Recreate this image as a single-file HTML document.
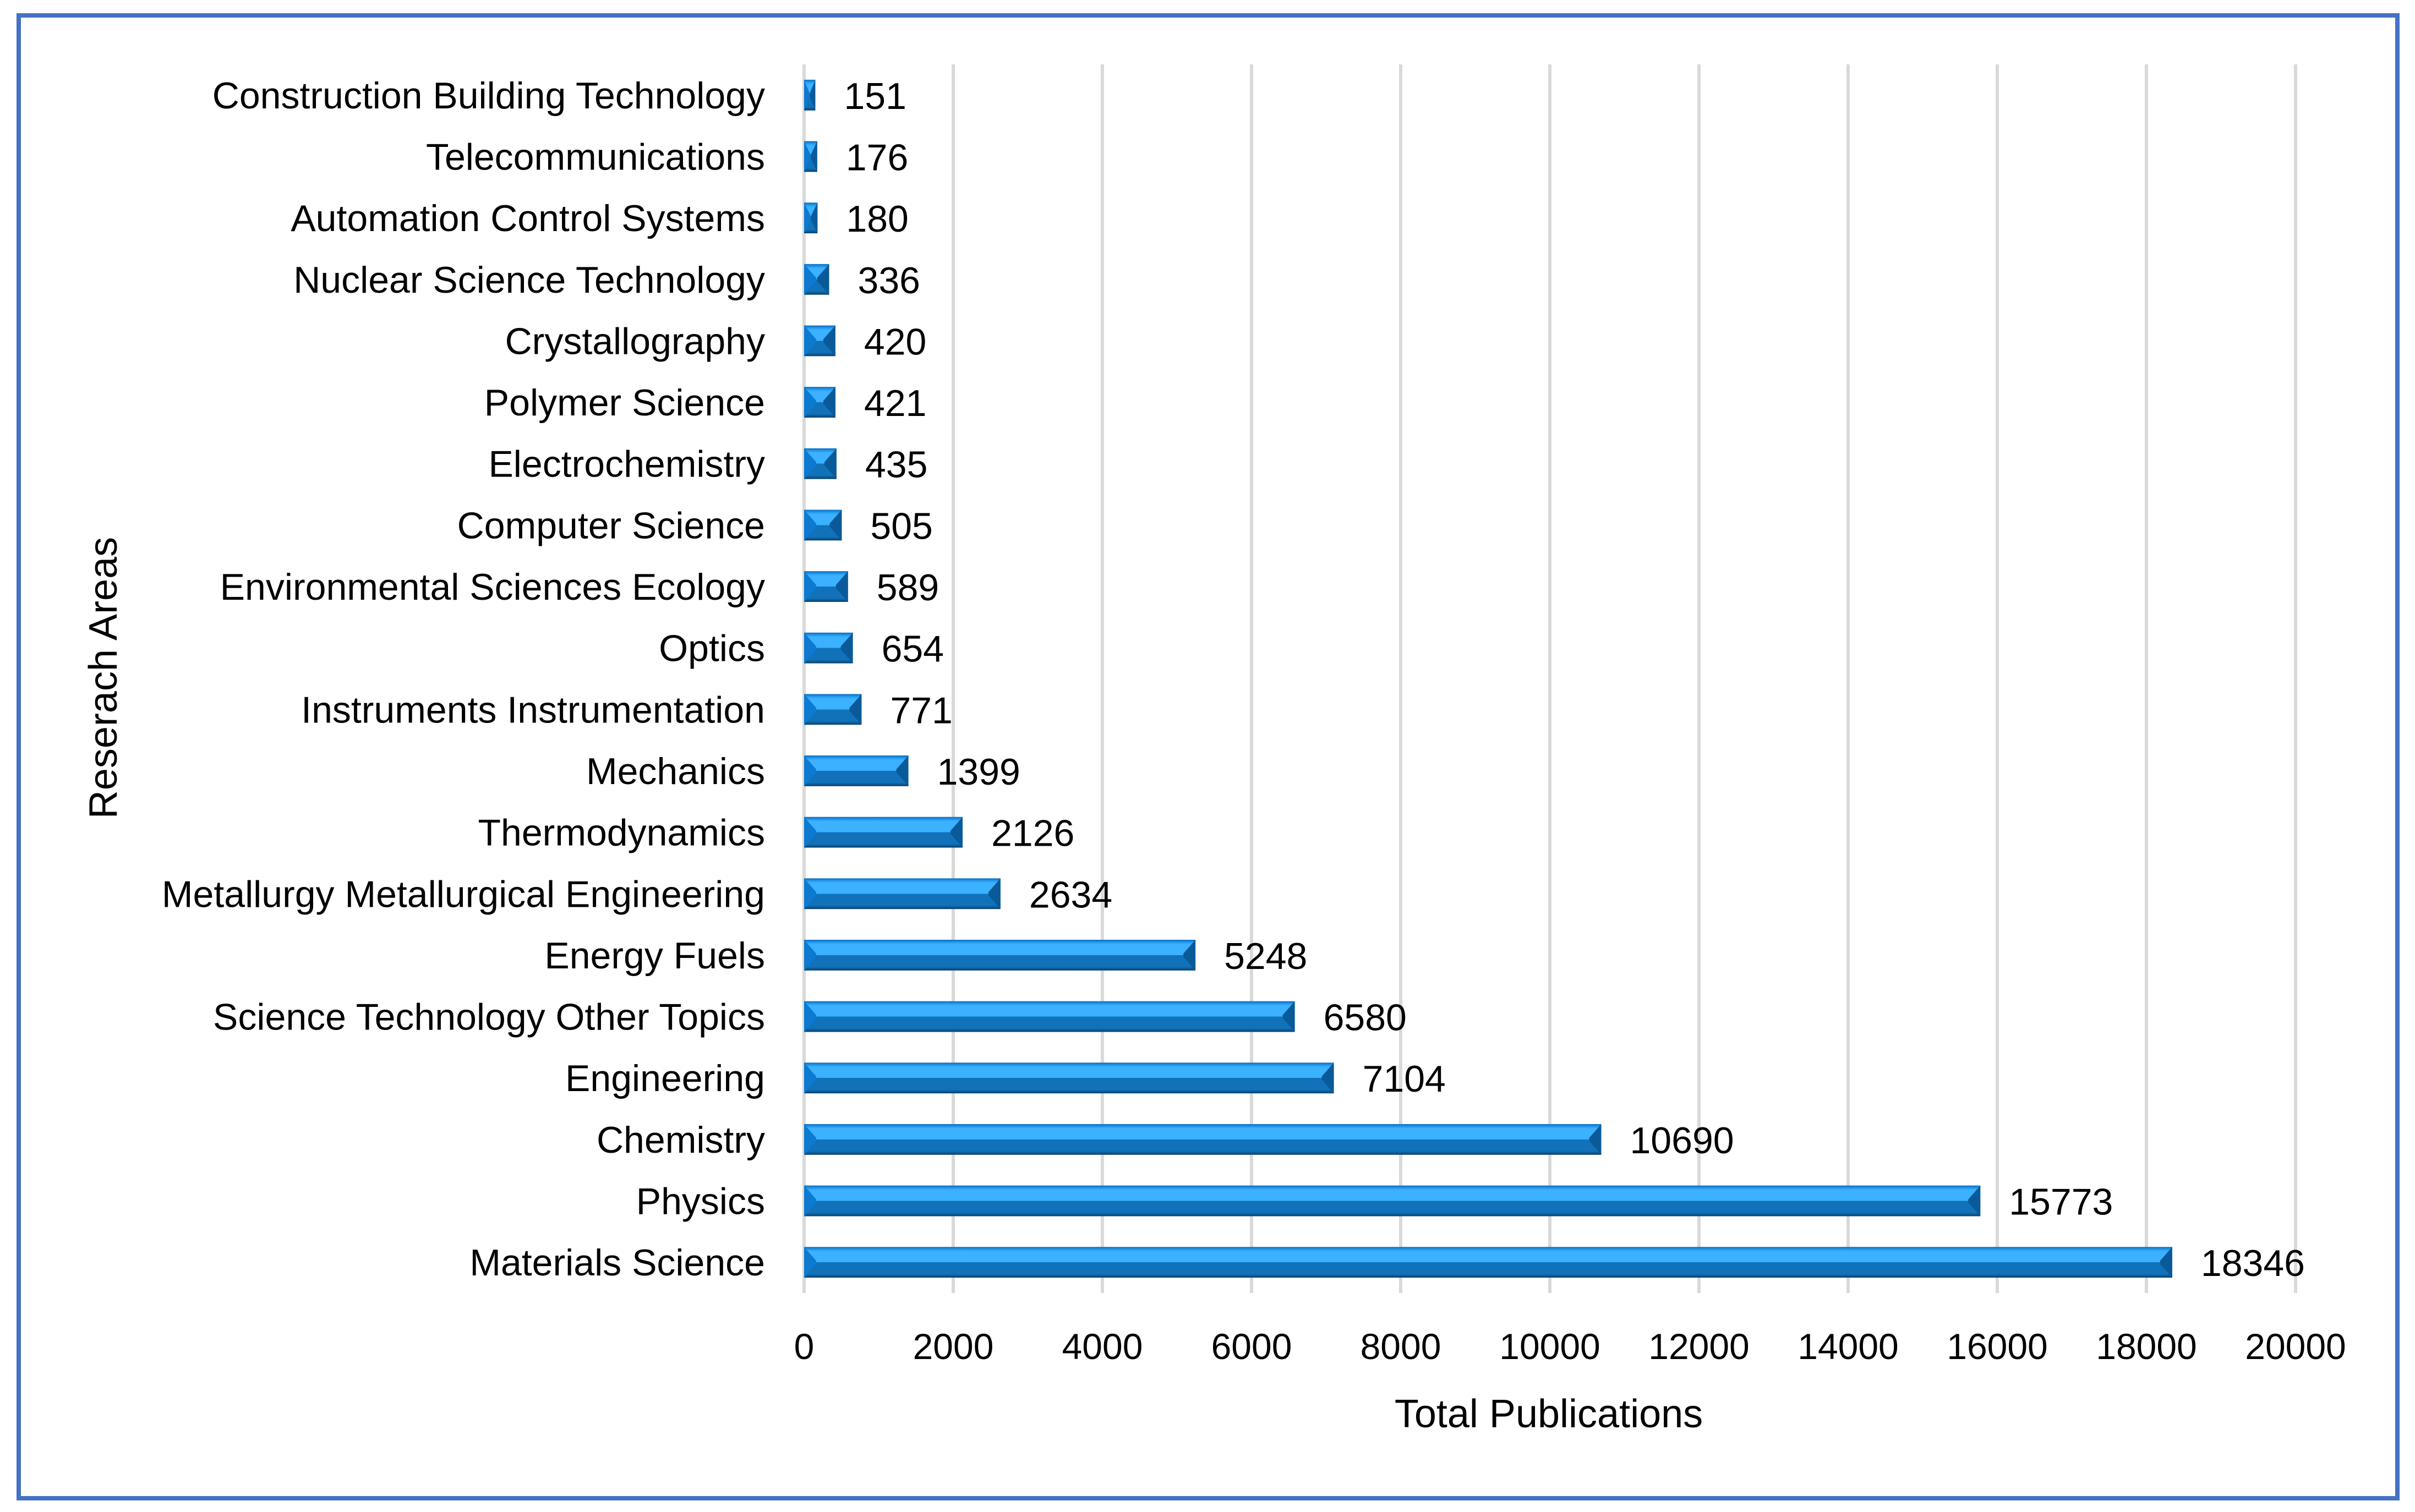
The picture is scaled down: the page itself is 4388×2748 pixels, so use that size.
<!DOCTYPE html>
<html><head><meta charset="utf-8"><style>
html,body{margin:0;padding:0;background:#fff}
svg{display:block}
text{font-family:"Liberation Sans",sans-serif;fill:#000}
</style></head><body>
<svg id="chart" width="4388" height="2748" viewBox="0 0 4388 2748" xmlns="http://www.w3.org/2000/svg">
<defs>
<linearGradient id="barg" x1="0" y1="0" x2="0" y2="1">
<stop offset="0" stop-color="#0a6cc0"/><stop offset="0.1" stop-color="#2aa2f5"/>
<stop offset="0.15" stop-color="#3bb1ff"/><stop offset="0.5" stop-color="#3bb1ff"/>
<stop offset="0.5" stop-color="#1172ba"/><stop offset="0.88" stop-color="#1172ba"/>
<stop offset="1" stop-color="#093f6c"/></linearGradient>
</defs>
<rect x="34" y="28" width="4322" height="2695" fill="#fff" stroke="#4472c4" stroke-width="8"/>
<g id="grid"></g><g id="bars"></g><g id="labels"></g>
<text x="2814" y="2594" font-size="72" text-anchor="middle">Total Publications</text>
<text transform="translate(212,1232) rotate(-90)" font-size="72" text-anchor="middle">Reserach Areas</text>
</svg>
<script>
const categories=["Construction Building Technology","Telecommunications","Automation Control Systems","Nuclear Science Technology","Crystallography","Polymer Science","Electrochemistry","Computer Science","Environmental Sciences Ecology","Optics","Instruments Instrumentation","Mechanics","Thermodynamics","Metallurgy Metallurgical Engineering","Energy Fuels","Science Technology Other Topics","Engineering","Chemistry","Physics","Materials Science"];
const values=[151,176,180,336,420,421,435,505,589,654,771,1399,2126,2634,5248,6580,7104,10690,15773,18346];
const ticks=[0,2000,4000,6000,8000,10000,12000,14000,16000,18000,20000];
const NS="http://www.w3.org/2000/svg";
const X0=1461,X1=4171,Y0=117,Y1=2350,XMAX=20000;
const band=(Y1-Y0)/categories.length;
function xs(v){return X0+(v/XMAX)*(X1-X0);}
function yc(i){return Y0+band*(i+0.5);}
function mk(tag,attrs,parent){const e=document.createElementNS(NS,tag);for(const k in attrs)e.setAttribute(k,attrs[k]);parent.appendChild(e);return e;}
const grid=document.getElementById('grid'),bars=document.getElementById('bars'),labels=document.getElementById('labels');
ticks.forEach(t=>{
  const l=mk('line',{x1:xs(t),x2:xs(t),y1:Y0,y2:Y1,stroke:'#d9d9d9','stroke-width':6},grid);
  
  
  const tx=mk('text',{x:xs(t),y:2470,'font-size':66,'text-anchor':'middle'},labels);
  tx.textContent=t;
  
  
});
const bh=band*0.5;
categories.forEach((c,i)=>{
  const v=values[i],y=yc(i)-bh/2,x=xs(0),w=xs(v)-xs(0);
  const g=mk('g',{},bars);
  
  
  mk('rect',{x:x,y:y,width:w,height:bh,fill:'url(#barg)'},g);
  const b=Math.min(22,w/2);
  mk('polygon',{points:`${x},${y} ${x+b},${y+bh*0.45} ${x+b},${y+bh*0.55} ${x},${y+bh}`,fill:'#0b7ad0'},g);
  mk('polygon',{points:`${x+w},${y} ${x+w-b},${y+bh*0.45} ${x+w-b},${y+bh*0.55} ${x+w},${y+bh}`,fill:'#0a5a99'},g);
  const cl=mk('text',{x:1390,y:yc(i)+24,'font-size':68,'text-anchor':'end'},labels);
  cl.textContent=c;
  
  
  const vl=mk('text',{x:xs(v)+52,y:yc(i)+25,'font-size':68},labels);
  vl.textContent=v;
  
  
});
</script>
</body></html>
